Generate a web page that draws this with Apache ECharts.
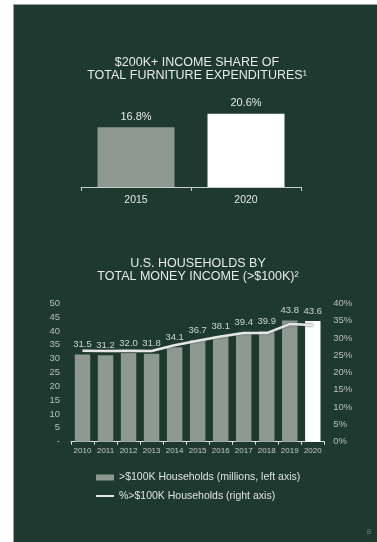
<!DOCTYPE html>
<html>
<head>
<meta charset="utf-8">
<script src="https://cdn.jsdelivr.net/npm/echarts@6/dist/echarts.min.js"></script>
<style>
html,body{margin:0;padding:0;background:#ffffff;}
#chart{width:377px;height:542px;}
</style>
</head>
<body>
<div id="chart"></div>
<script>
// ---- data ----
const topTitle1 = '$200K+ INCOME SHARE OF';
const topTitle2 = 'TOTAL FURNITURE EXPENDITURES\u00b9';
const topCategories = ['2015', '2020'];
const topValues = [16.8, 20.6];

const bottomTitle1 = 'U.S. HOUSEHOLDS BY';
const bottomTitle2 = 'TOTAL MONEY INCOME (>$100K)\u00b2';
const years = ['2010','2011','2012','2013','2014','2015','2016','2017','2018','2019','2020'];
const households = [31.5, 31.2, 32.0, 31.8, 34.1, 36.7, 38.1, 39.4, 39.9, 43.8, 43.6];
const sharePct = [26.3, 26.2, 26.3, 26.2, 27.9, 29.2, 30.4, 31.4, 31.4, 34.0, 33.7];
const seriesNames = ['>$100K Households (millions, left axis)', '%>$100K Households (right axis)'];
const pageNumber = '8';

// ---- styles ----
const BG = '#1e3a30';
const BAR = '#8e9992';
const WHITE = '#ffffff';
const FONT = '"Liberation Sans", Arial, Helvetica, sans-serif';

const chart = echarts.init(document.getElementById('chart'), null, {renderer: 'canvas'});

const option = {
  backgroundColor: '#ffffff',
  animation: false,
  textStyle: {fontFamily: FONT},
  graphic: [
    {type: 'rect', z: -10, shape: {x: 13, y: 4, width: 364, height: 538}, style: {fill: '#9aa29e'}},
    {type: 'rect', z: -9, shape: {x: 14, y: 5, width: 363, height: 537}, style: {fill: BG}},
    {type: 'text', x: 197, y: 62.5, style: {text: topTitle1, fill: '#e8ebe9', font: '12.5px ' + FONT, textAlign: 'center', textVerticalAlign: 'middle'}},
    {type: 'text', x: 197, y: 75.5, style: {text: topTitle2, fill: '#e8ebe9', font: '12.5px ' + FONT, textAlign: 'center', textVerticalAlign: 'middle'}},
    {type: 'text', x: 198, y: 263.5, style: {text: bottomTitle1, fill: '#e8ebe9', font: '12.5px ' + FONT, textAlign: 'center', textVerticalAlign: 'middle'}},
    {type: 'text', x: 198, y: 276.5, style: {text: bottomTitle2, fill: '#e8ebe9', font: '12.5px ' + FONT, textAlign: 'center', textVerticalAlign: 'middle'}},
    {type: 'text', x: 369, y: 532, style: {text: pageNumber, fill: '#6f7f77', font: '8px ' + FONT, textAlign: 'center', textVerticalAlign: 'middle'}}
  ],
  grid: [
    {left: 81, top: 98.2, width: 220, height: 88.8},
    {left: 71, top: 303.3, width: 253.3, height: 138.4}
  ],
  xAxis: [
    {
      type: 'category', gridIndex: 0, data: topCategories,
      axisLine: {lineStyle: {color: '#c9cecb', width: 1}},
      axisTick: {show: true, length: 4, lineStyle: {color: '#c9cecb'}},
      axisLabel: {color: '#e2e5e3', fontSize: 10.5, margin: 8, interval: 0}
    },
    {
      type: 'category', gridIndex: 1, data: years,
      axisLine: {lineStyle: {color: '#dfe2e0', width: 1}},
      axisTick: {show: true, length: 3, interval: 0, lineStyle: {color: '#dfe2e0'}},
      axisLabel: {color: '#c5cac7', fontSize: 8, margin: 5, interval: 0, hideOverlap: false}
    }
  ],
  yAxis: [
    {type: 'value', gridIndex: 0, min: 0, max: 25, show: false, splitLine: {show: false}},
    {
      type: 'value', gridIndex: 1, min: 0, max: 50, interval: 5, position: 'left',
      axisLine: {show: false}, axisTick: {show: false}, splitLine: {show: false},
      axisLabel: {color: '#b9bfbb', fontSize: 9.5, margin: 11, formatter: v => v === 0 ? '-' : String(v)}
    },
    {
      type: 'value', gridIndex: 1, min: 0, max: 40, interval: 5, position: 'right',
      axisLine: {show: false}, axisTick: {show: false}, splitLine: {show: false},
      axisLabel: {color: '#b9bfbb', fontSize: 9.5, margin: 9, formatter: '{value}%'}
    }
  ],
  legend: [
    {
      data: [seriesNames[0]], left: 96, top: 472, itemWidth: 18, itemHeight: 6, icon: 'rect',
      selectedMode: false, padding: 0,
      textStyle: {color: '#dde1de', fontSize: 10.5, fontFamily: FONT}
    },
    {
      data: [seriesNames[1]], left: 96, top: 490.5, itemWidth: 18, itemHeight: 2, icon: 'rect',
      selectedMode: false, padding: 0,
      textStyle: {color: '#dde1de', fontSize: 10.5, fontFamily: FONT}
    }
  ],
  series: [
    {
      type: 'bar', xAxisIndex: 0, yAxisIndex: 0, barWidth: '70%',
      data: topValues.map((v, i) => i === topValues.length - 1 ? {value: v, itemStyle: {color: WHITE}} : v),
      itemStyle: {color: BAR},
      label: {show: true, position: 'top', distance: 5, color: '#e6e9e7', fontSize: 11, formatter: p => p.value.toFixed(1) + '%'}
    },
    {
      name: seriesNames[0], type: 'bar', xAxisIndex: 1, yAxisIndex: 1, barWidth: '67%',
      data: households.map((v, i) => i === households.length - 1 ? {value: v, itemStyle: {color: WHITE}} : v),
      itemStyle: {color: BAR},
      label: {show: true, position: 'top', distance: 5, color: '#cfd4d1', fontSize: 9.5, formatter: p => p.value.toFixed(1)}
    },
    {
      name: seriesNames[1], type: 'line', xAxisIndex: 1, yAxisIndex: 2,
      data: sharePct, symbol: 'none', z: 5,
      color: '#e4e7e5',
      lineStyle: {color: '#e4e7e5', width: 2.5, shadowColor: 'rgba(60,70,65,0.9)', shadowBlur: 2}
    }
  ]
};
chart.setOption(option);
</script>
</body>
</html>
